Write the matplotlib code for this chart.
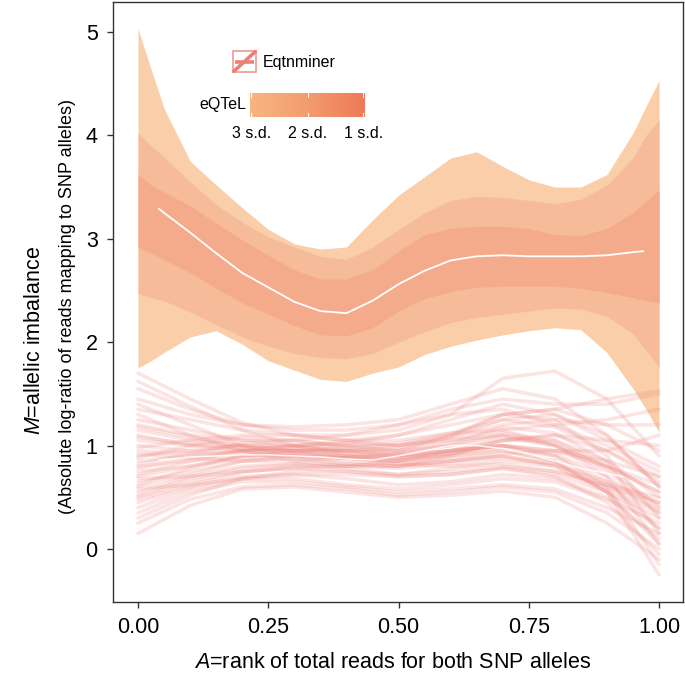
import numpy as np
import matplotlib
matplotlib.use("Agg")
import matplotlib.pyplot as plt
from matplotlib.colors import LinearSegmentedColormap
from matplotlib.patches import Rectangle

plt.rcParams["font.family"] = ["Liberation Sans", "DejaVu Sans"]
plt.rcParams["mathtext.fontset"] = "custom"
plt.rcParams["mathtext.it"] = "Liberation Sans:italic"
plt.rcParams["mathtext.rm"] = "Liberation Sans"

# eQTeL ribbons (upper group): rank grid and band edges
A_RIB = [0, 0.025, 0.05, 0.10, 0.15, 0.20, 0.25, 0.30, 0.35, 0.40, 0.45, 0.50,
         0.55, 0.60, 0.65, 0.70, 0.75, 0.80, 0.85, 0.90, 0.95, 0.975, 1.0]
U3 = [5.03, 4.64, 4.26, 3.75, 3.52, 3.30, 3.09, 2.95, 2.90, 2.92, 3.18, 3.42,
      3.60, 3.78, 3.84, 3.70, 3.57, 3.50, 3.50, 3.62, 4.02, 4.28, 4.53]
U2 = [4.02, 3.90, 3.79, 3.55, 3.33, 3.16, 3.02, 2.92, 2.83, 2.80, 2.92, 3.09,
      3.25, 3.37, 3.41, 3.40, 3.37, 3.34, 3.38, 3.52, 3.78, 4.00, 4.15]
U1 = [3.62, 3.52, 3.45, 3.32, 3.15, 2.99, 2.84, 2.70, 2.61, 2.61, 2.70, 2.88,
      3.04, 3.10, 3.12, 3.12, 3.10, 3.04, 3.03, 3.10, 3.25, 3.36, 3.47]
L1 = [2.92, 2.86, 2.80, 2.67, 2.52, 2.38, 2.27, 2.16, 2.07, 2.06, 2.14, 2.30,
      2.42, 2.49, 2.53, 2.54, 2.54, 2.54, 2.52, 2.48, 2.43, 2.40, 2.38]
L2 = [2.47, 2.43, 2.40, 2.29, 2.17, 2.05, 1.96, 1.89, 1.85, 1.84, 1.89, 2.00,
      2.10, 2.19, 2.24, 2.27, 2.30, 2.33, 2.32, 2.25, 2.08, 1.92, 1.76]
L3 = [1.75, 1.82, 1.90, 2.05, 2.11, 1.98, 1.82, 1.73, 1.64, 1.62, 1.70, 1.76,
      1.88, 1.96, 2.02, 2.07, 2.11, 2.14, 2.12, 1.90, 1.55, 1.35, 1.13]

# eQTeL mean
A_MEAN = [0.04, 0.05, 0.10, 0.15, 0.20, 0.25, 0.30, 0.35, 0.40, 0.45, 0.50,
          0.55, 0.60, 0.65, 0.70, 0.75, 0.80, 0.85, 0.90, 0.95, 0.97]
M_MEAN = [3.29, 3.25, 3.06, 2.86, 2.67, 2.53, 2.39, 2.30, 2.28, 2.40, 2.56,
          2.69, 2.79, 2.83, 2.84, 2.83, 2.83, 2.83, 2.84, 2.87, 2.88]

# Eqtnminer curves (lower group)
A_LINES = [0, 0.1, 0.2, 0.3, 0.4, 0.5, 0.6, 0.7, 0.8, 0.9, 1.0]
EQTN = [
    [1.70, 1.45, 1.22, 1.10, 1.05, 1.05, 1.12, 1.15, 1.00, 0.80, 0.55],
    [1.55, 1.35, 1.20, 1.15, 1.15, 1.20, 1.30, 1.35, 1.20, 1.00, 0.75],
    [1.45, 1.30, 1.20, 1.18, 1.20, 1.25, 1.40, 1.55, 1.45, 1.10, 0.60],
    [1.35, 1.25, 1.15, 1.10, 1.10, 1.15, 1.30, 1.65, 1.72, 1.45, 0.90],
    [1.25, 1.15, 1.05, 1.00, 1.02, 1.10, 1.25, 1.40, 1.30, 1.05, 0.80],
    [1.20, 1.10, 1.05, 1.05, 1.10, 1.20, 1.35, 1.45, 1.40, 1.40, 1.50],
    [1.15, 1.05, 1.00, 1.00, 1.05, 1.10, 1.20, 1.30, 1.35, 1.45, 1.53],
    [1.10, 1.00, 0.95, 0.95, 0.98, 1.00, 1.05, 1.15, 1.20, 1.25, 1.35],
    [1.05, 1.00, 0.98, 0.95, 0.92, 0.90, 0.95, 1.00, 0.95, 0.85, 0.70],
    [1.00, 0.95, 0.95, 0.95, 0.95, 0.95, 1.05, 1.10, 1.00, 0.75, 0.40],
    [0.95, 0.92, 0.92, 0.92, 0.90, 0.88, 0.95, 1.05, 1.05, 0.85, 0.50],
    [0.90, 0.95, 1.00, 1.00, 0.95, 0.90, 0.95, 1.00, 0.90, 0.65, 0.20],
    [0.85, 0.90, 0.95, 0.95, 0.90, 0.85, 0.88, 0.95, 0.85, 0.55, 0.05],
    [0.80, 0.85, 0.90, 0.92, 0.90, 0.88, 0.92, 0.98, 0.90, 0.60, -0.15],
    [0.75, 0.80, 0.88, 0.90, 0.88, 0.85, 0.90, 0.95, 0.85, 0.55, -0.25],
    [0.70, 0.80, 0.90, 0.95, 0.95, 0.92, 0.95, 1.00, 0.92, 0.70, 0.35],
    [0.65, 0.75, 0.85, 0.88, 0.85, 0.82, 0.85, 0.90, 0.80, 0.55, 0.20],
    [0.60, 0.72, 0.85, 0.90, 0.88, 0.82, 0.80, 0.82, 0.75, 0.60, 0.45],
    [0.55, 0.70, 0.80, 0.82, 0.78, 0.72, 0.75, 0.80, 0.75, 0.62, 0.50],
    [0.50, 0.65, 0.75, 0.78, 0.75, 0.70, 0.72, 0.78, 0.72, 0.55, 0.30],
    [0.45, 0.60, 0.70, 0.72, 0.68, 0.62, 0.65, 0.72, 0.68, 0.50, 0.10],
    [0.40, 0.58, 0.68, 0.68, 0.62, 0.58, 0.62, 0.68, 0.65, 0.48, 0.25],
    [0.35, 0.55, 0.65, 0.65, 0.60, 0.55, 0.58, 0.62, 0.58, 0.40, 0.15],
    [0.25, 0.48, 0.60, 0.62, 0.58, 0.52, 0.55, 0.60, 0.55, 0.35, 0.00],
    [0.15, 0.42, 0.58, 0.60, 0.55, 0.50, 0.52, 0.56, 0.50, 0.25, -0.10],
    [1.40, 1.20, 1.00, 0.88, 0.82, 0.80, 0.85, 0.90, 0.82, 0.65, 0.45],
    [1.30, 1.10, 0.95, 0.85, 0.80, 0.80, 0.90, 1.05, 1.10, 0.95, 0.70],
    [0.98, 1.05, 1.10, 1.10, 1.05, 1.00, 1.08, 1.25, 1.30, 1.10, 0.60],
    [0.88, 1.00, 1.08, 1.05, 0.98, 0.95, 1.10, 1.30, 1.25, 0.90, 0.30],
    [0.72, 0.85, 0.95, 0.98, 0.95, 0.92, 1.00, 1.12, 1.05, 0.80, 0.55],
    [0.62, 0.78, 0.90, 0.92, 0.88, 0.85, 0.92, 1.05, 1.10, 1.05, 1.00],
    [0.52, 0.68, 0.78, 0.82, 0.82, 0.80, 0.85, 0.92, 0.95, 0.95, 1.10],
    [0.30, 0.52, 0.68, 0.75, 0.75, 0.72, 0.78, 0.85, 0.80, 0.58, 0.35],
    [1.62, 1.38, 1.15, 1.00, 0.92, 0.88, 0.92, 1.00, 0.95, 0.80, 0.62],
    [0.78, 0.88, 0.95, 1.00, 1.02, 1.00, 1.10, 1.30, 1.35, 1.20, 0.95],
    [0.68, 0.70, 0.75, 0.78, 0.80, 0.85, 0.95, 1.08, 1.00, 0.70, 0.05],
    [0.92, 0.88, 0.85, 0.85, 0.88, 0.92, 1.02, 1.18, 1.12, 0.85, 0.15],
    [0.58, 0.62, 0.68, 0.72, 0.72, 0.70, 0.72, 0.78, 0.70, 0.45, -0.05],
    [1.08, 1.02, 0.98, 0.98, 1.00, 1.02, 1.12, 1.25, 1.18, 0.95, 0.65],
    [0.82, 0.92, 1.02, 1.05, 1.00, 0.95, 1.00, 1.10, 1.02, 0.78, 0.42],
    [0.48, 0.62, 0.74, 0.80, 0.80, 0.78, 0.82, 0.88, 0.82, 0.62, 0.38],
    [1.18, 1.08, 1.00, 0.95, 0.95, 0.98, 1.08, 1.20, 1.25, 1.20, 1.20],
]
A_EQTN_MEAN = [0.04, 0.10, 0.15, 0.20, 0.25, 0.30, 0.35, 0.40, 0.45, 0.50,
               0.55, 0.60, 0.65, 0.70, 0.75, 0.80, 0.85, 0.90, 0.93]
M_EQTN_MEAN = [0.86, 0.89, 0.90, 0.91, 0.91, 0.90, 0.89, 0.87, 0.86, 0.90,
               0.95, 1.00, 1.00, 0.97, 0.92, 0.85, 0.78, 0.73, 0.70]

SD_LABELS = ["3 s.d.", "2 s.d.", "1 s.d."]
XTICKS = [0, 0.25, 0.5, 0.75, 1.0]
XTICKLABELS = ["0.00", "0.25", "0.50", "0.75", "1.00"]
YTICKS = [0, 1, 2, 3, 4, 5]

C3, C2, C1 = "#F9CEA9", "#F6BC99", "#F3AB8B"
LINE_C = "#EE8078"

W, H = 685, 680
fig = plt.figure(figsize=(W / 100, H / 100), dpi=100)
ax = fig.add_axes([113 / W, 1 - 602 / H, 570 / W, 600.5 / H])

ax.fill_between(A_RIB, L3, U3, color=C3, lw=0)
ax.fill_between(A_RIB, L2, U2, color=C2, lw=0)
ax.fill_between(A_RIB, L1, U1, color=C1, lw=0)
ax.plot(A_MEAN, M_MEAN, color="white", lw=1.3, solid_capstyle="round")

for ys in EQTN:
    ax.plot(A_LINES, ys, color=LINE_C, alpha=0.2, lw=2.6, solid_capstyle="round")
ax.plot(A_EQTN_MEAN, M_EQTN_MEAN, color="white", lw=1.1, alpha=0.85)

ax.set_xlim(-0.048, 1.046)
ax.set_ylim(-0.513, 5.294)
ax.set_xticks(XTICKS)
ax.set_xticklabels(XTICKLABELS)
ax.set_yticks(YTICKS)
for s in ax.spines.values():
    s.set_color("#333333")
    s.set_linewidth(1.0)
ax.tick_params(direction="out", length=4, width=1.0, color="#333333",
               labelsize=15.5, pad=7)

fig.text(393 / W, 1 - 662 / H, r"$\it{A}$=rank of total reads for both SNP alleles",
         ha="center", va="center", fontsize=15.5)
fig.text(35 / W, 1 - 340 / H, r"$\it{M}$=allelic imbalance", rotation=90,
         ha="center", va="center", fontsize=15.5)
fig.text(68 / W, 1 - 307 / H, "(Absolute log-ratio of reads mapping to SNP alleles)",
         rotation=90, ha="center", va="center", fontsize=13)

# legend: Eqtnminer key
kax = fig.add_axes([232 / W, 1 - 73 / H, 25 / W, 23 / H])
kax.set_xlim(0, 1); kax.set_ylim(0, 1); kax.axis("off")
kax.add_patch(Rectangle((0.04, 0.04), 0.92, 0.92, fill=False, ec="#F29A92", lw=1.2))
kax.plot([0.02, 0.98], [0.02, 0.98], color="#EE7F77", lw=2.6, solid_capstyle="butt")
kax.plot([0.12, 0.88], [0.5, 0.5], color="#EE7F77", lw=2.6, solid_capstyle="butt")
fig.text(263 / W, 1 - 63 / H, "Eqtnminer", ha="left", va="center", fontsize=11.5)

# legend: eQTeL colour bar
cmap = LinearSegmentedColormap.from_list("eqtel", ["#F8B584", "#F39C70", "#EE7A58"])
cax = fig.add_axes([250 / W, 1 - 117 / H, 115 / W, 24 / H])
cax.imshow(np.linspace(0, 1, 256)[None, :], aspect="auto", cmap=cmap, extent=(0, 1, 0, 1))
cax.set_xlim(0, 1); cax.set_ylim(0, 1); cax.axis("off")
for i, lab in enumerate(SD_LABELS):
    xp = [0.01, 0.5, 0.985][i]
    cax.plot([xp, xp], [0, 0.15], color="white", lw=0.8)
    cax.plot([xp, xp], [0.85, 1], color="white", lw=0.8)
    fig.text((250 + 115 * xp) / W, 1 - 133 / H, lab, ha="center", va="center", fontsize=11.5)
fig.text(246 / W, 1 - 105 / H, "eQTeL", ha="right", va="center", fontsize=11.5)

fig.savefig("out.png", dpi=100)
